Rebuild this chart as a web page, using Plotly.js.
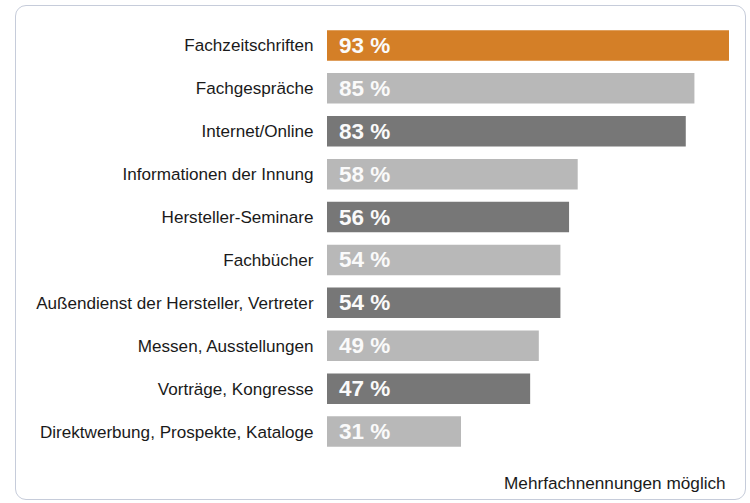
<!DOCTYPE html>
<html>
<head>
<meta charset="utf-8">
<script src="https://cdn.plot.ly/plotly-3.0.1.min.js"></script>
<style>
  html, body { margin: 0; padding: 0; background: #fff; }
  #wrap { position: relative; width: 750px; height: 503px; }
  #chart { width: 750px; height: 503px; }
  #frame { position: absolute; left: 15px; top: 5px; width: 731px; height: 495px;
           border: 1.5px solid #c6ccda; border-radius: 11px; pointer-events: none; box-sizing: border-box; }
</style>
</head>
<body>
<div id="wrap">
  <div id="chart"></div>
  <div id="frame"></div>
</div>
<script>
const categories = [
  "Fachzeitschriften",
  "Fachgespräche",
  "Internet/Online",
  "Informationen der Innung",
  "Hersteller-Seminare",
  "Fachbücher",
  "Außendienst der Hersteller, Vertreter",
  "Messen, Ausstellungen",
  "Vorträge, Kongresse",
  "Direktwerbung, Prospekte, Kataloge"
];
const values = [93, 85, 83, 58, 56, 54, 54, 49, 47, 31];
const barColors = ["#d47f27", "#b8b8b8", "#777777", "#b8b8b8", "#777777",
                   "#b8b8b8", "#777777", "#b8b8b8", "#777777", "#b8b8b8"];
const valueLabels = values.map(v => v + " %");
const note = "Mehrfachnennungen möglich";

const trace = {
  type: "bar",
  orientation: "h",
  y: categories,
  x: values,
  marker: { color: barColors },
  hoverinfo: "none"
};

const annotations = categories.map((c, i) => ({
  x: 0, y: c, xref: "x", yref: "y",
  text: "<b>" + valueLabels[i] + "</b>",
  showarrow: false, xanchor: "left", yanchor: "middle", xshift: 10,
  font: { family: "Liberation Sans, Arial, sans-serif", size: 22.5, color: "#fafafa" }
}));
annotations.push({
  x: 1, y: 0, xref: "paper", yref: "paper",
  text: note, showarrow: false, xanchor: "right", yanchor: "middle",
  xshift: -1, yshift: -30,
  font: { family: "Liberation Sans, Arial, sans-serif", size: 17.2, color: "#1a1a1a" }
});

const layout = {
  width: 750, height: 503,
  margin: { l: 327, r: 21, t: 24, b: 50 },
  paper_bgcolor: "#ffffff",
  plot_bgcolor: "#ffffff",
  showlegend: false,
  bargap: 0.29,
  xaxis: { range: [0, 93], visible: false, fixedrange: true },
  yaxis: {
    autorange: "reversed",
    showgrid: false, zeroline: false, showline: false,
    ticks: "outside", ticklen: 9, tickcolor: "rgba(0,0,0,0)",
    tickfont: { family: "Liberation Sans, Arial, sans-serif", size: 17.1, color: "#1a1a1a" }
  },
  annotations: annotations
};

Plotly.newPlot("chart", [trace], layout, { displayModeBar: false, staticPlot: true });
</script>
</body>
</html>
